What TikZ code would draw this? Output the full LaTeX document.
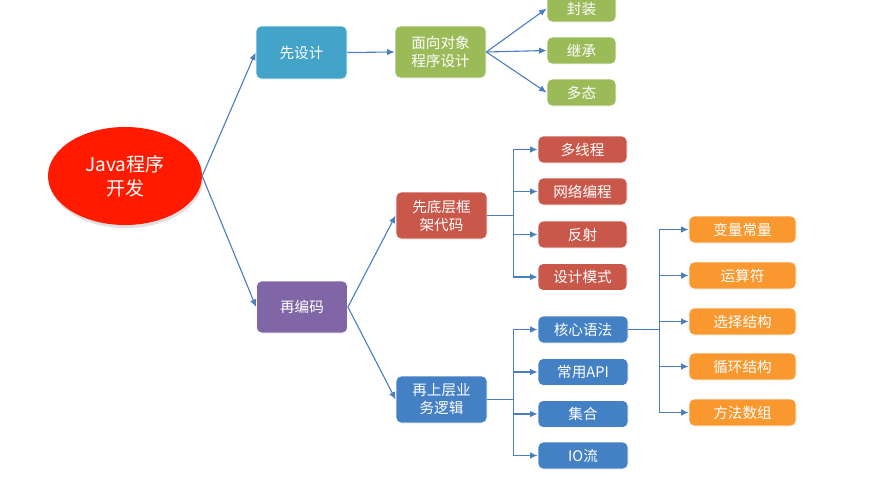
\documentclass[tikz,border=0pt]{standalone}
\usepackage{fontspec}
\setmainfont{Noto Sans CJK SC}
\usetikzlibrary{arrows.meta,shadows,shapes.geometric}
\definecolor{rootred}{HTML}{FF1A00}
\definecolor{cdesign}{HTML}{43A3C9}
\definecolor{cgreen}{HTML}{9BBB59}
\definecolor{cred}{HTML}{C9574A}
\definecolor{cpurple}{HTML}{8066A6}
\definecolor{cblue}{HTML}{4480C4}
\definecolor{corange}{HTML}{F8982F}
\definecolor{carrow}{HTML}{4A7EC0}
\begin{document}
\begin{tikzpicture}[x=1pt,y=-1pt,
  box/.style={rounded corners=5pt, draw=white, line width=0.8pt, text=white,
    align=center, inner sep=0pt, font=\fontsize{14.6}{18}\selectfont},
  mid/.style={box, minimum width=91, minimum height=50},
  leaf/.style={box, minimum width=89, minimum height=27},
  wire/.style={draw=carrow, line width=1.1pt},
  conn/.style={wire, -{Latex[length=7.5pt,width=6.5pt]}},
  ]
\useasboundingbox (0,0) rectangle (871,485);
\clip (0,0) rectangle (871,485);
\fill[white] (0,0) rectangle (871,485);

% root
\node[ellipse, fill=rootred, minimum width=154, minimum height=98, inner sep=0pt,
  text=white, align=center, font=\fontsize{19}{24}\selectfont,
  drop shadow={opacity=0.25, shadow xshift=1pt, shadow yshift=-3pt}] (root) at (125,176) {Java程序\\开发};

% level 1
\node[mid, fill=cdesign, minimum height=53] (design) at (301.5,52.5) {先设计};
\node[mid, fill=cpurple, minimum height=52] (code) at (302,307) {再编码};

% level 2
\node[mid, fill=cgreen, minimum height=52] (oop) at (440.5,52) {面向对象\\程序设计};
\node[mid, fill=cred, minimum height=47] (frame) at (441.5,215.5) {先底层框\\架代码};
\node[mid, fill=cblue, minimum height=47] (biz) at (441.5,399.5) {再上层业\\务逻辑};

% green leaves
\node[leaf, fill=cgreen, minimum width=69] (g1) at (581.5,8.5) {封装};
\node[leaf, fill=cgreen, minimum width=69] (g2) at (581.5,50.5) {继承};
\node[leaf, fill=cgreen, minimum width=69] (g3) at (581.5,92.5) {多态};

% red leaves
\node[leaf, fill=cred] (r1) at (582.5,149.5) {多线程};
\node[leaf, fill=cred] (r2) at (582.5,191.5) {网络编程};
\node[leaf, fill=cred] (r3) at (582.5,234.5) {反射};
\node[leaf, fill=cred] (r4) at (582.5,277) {设计模式};

% blue leaves
\node[leaf, fill=cblue, minimum width=90] (b1) at (583,329.5) {核心语法};
\node[leaf, fill=cblue, minimum width=90] (b2) at (583,372) {常用API};
\node[leaf, fill=cblue, minimum width=90] (b3) at (583,414) {集合};
\node[leaf, fill=cblue, minimum width=90] (b4) at (583,455.5) {IO流};

% orange leaves
\node[leaf, fill=corange, minimum width=107] (o1) at (742.5,229.5) {变量常量};
\node[leaf, fill=corange, minimum width=107] (o2) at (742.5,275.5) {运算符};
\node[leaf, fill=corange, minimum width=107] (o3) at (742.5,321.5) {选择结构};
\node[leaf, fill=corange, minimum width=107] (o4) at (742.5,366.5) {循环结构};
\node[leaf, fill=corange, minimum width=107] (o5) at (742.5,412.5) {方法数组};

% connectors
\draw[conn] (root.east) -- (design.west);
\draw[conn] (root.east) -- (code.west);
\draw[conn] (design.east) -- (oop.west);
\draw[conn] (code.east) -- (frame.west);
\draw[conn] (code.east) -- (biz.west);
\foreach \n in {g1,g2,g3} \draw[conn] (oop.east) -- (\n.west);

\coordinate (fj) at ([xshift=26pt]frame.east);
\draw[wire] (frame.east) -- (fj);
\draw[wire] (fj |- r1.west) -- (fj |- r4.west);
\foreach \n in {r1,r2,r3,r4} \draw[conn] (fj |- \n.west) -- (\n.west);

\coordinate (bj) at ([xshift=26pt]biz.east);
\draw[wire] (biz.east) -- (bj);
\draw[wire] (bj |- b1.west) -- (bj |- b4.west);
\foreach \n in {b1,b2,b3,b4} \draw[conn] (bj |- \n.west) -- (\n.west);

\coordinate (cj) at ([xshift=31pt]b1.east);
\draw[wire] (b1.east) -- (cj);
\draw[wire] (cj |- o1.west) -- (cj |- o5.west);
\foreach \n in {o1,o2,o3,o4,o5} \draw[conn] (cj |- \n.west) -- (\n.west);
\end{tikzpicture}
\end{document}
